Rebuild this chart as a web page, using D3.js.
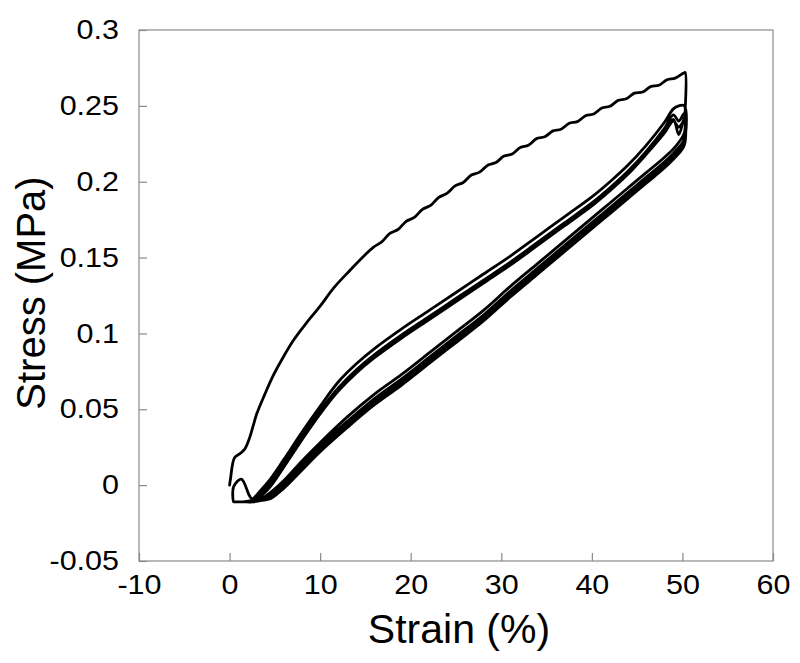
<!DOCTYPE html>
<html><head><meta charset="utf-8">
<script src="https://cdn.jsdelivr.net/npm/d3@7"></script>
<style>body{margin:0;background:#fff}svg{display:block}</style>
</head><body><svg id="c" width="800" height="663"></svg>
<script>
// ---- axis ticks ----
const xTicks = [-10, 0, 10, 20, 30, 40, 50, 60];
const xTickLabels = ["-10", "0", "10", "20", "30", "40", "50", "60"];
const yTicks = [-0.05, 0, 0.05, 0.1, 0.15, 0.2, 0.25, 0.3];
const yTickLabels = ["-0.05", "0", "0.05", "0.1", "0.15", "0.2", "0.25", "0.3"];
const xTitle = "Strain (%)";
const yTitle = "Stress (MPa)";

// ---- cycle 1 loading (outer curve, with its small sawtooth) ----
const load1Strain = [0, 0.1, 0.55, 1.2, 1.7, 2.2, 2.6, 3.0, 3.9, 4.8, 5.7, 7.0, 8.5, 10, 11.5, 13.2,
  15, 15.9, 16.8, 17.7, 18.6, 19.5, 20.4, 21.3, 22.2, 23.1, 24.0, 24.9, 25.8, 26.7, 27.6, 28.5, 29.4, 30.3,
  31.2, 32.1, 33.0, 33.9, 34.8, 35.7, 36.6, 37.5, 38.4, 39.3, 40.2, 41.1, 42.0, 42.9, 43.8, 44.7, 45.6,
  46.5, 47.4, 48.3, 49.2, 50.1, 50.3, 50.3];
const load1Stress = [0, 0.004, 0.018, 0.021, 0.024, 0.031, 0.039, 0.047, 0.060, 0.072, 0.082, 0.095, 0.107, 0.118, 0.130, 0.141,
  0.152, 0.1569, 0.1604, 0.1659, 0.1685, 0.1739, 0.1765, 0.1818, 0.1844, 0.1897, 0.1923, 0.1973, 0.1995, 0.2044, 0.2063, 0.2109, 0.2126, 0.2169,
  0.2183, 0.2226, 0.2241, 0.2284, 0.2296, 0.2335, 0.2346, 0.2385, 0.2396, 0.2435, 0.2446, 0.2486, 0.2497, 0.2536, 0.2547, 0.2584, 0.2591,
  0.2627, 0.2636, 0.2672, 0.2683, 0.2715, 0.2720, 0.2460];

// ---- unloading curves (lower band) ----
const unloadStrain = [50.2, 49.2, 48, 46, 44, 42, 40, 37, 34, 31, 28, 25, 22, 19, 16, 13, 10, 8, 6, 4.5, 3.5, 2.5, 1.5, 0.5];
const unload1Stress = [0.232, 0.223, 0.216, 0.206, 0.196, 0.186, 0.176, 0.161, 0.146, 0.131, 0.115, 0.101, 0.087, 0.073, 0.060, 0.045, 0.028, 0.016, 0.003, -0.005, -0.009, -0.011, -0.011, -0.011];
const unload2Stress = [0.228, 0.220, 0.213, 0.203, 0.193, 0.183, 0.173, 0.158, 0.143, 0.128, 0.112, 0.098, 0.084, 0.070, 0.057, 0.042, 0.026, 0.014, 0.001, -0.006, -0.010, -0.011, -0.011, -0.011];
const unload3Stress = [0.226, 0.218, 0.211, 0.201, 0.191, 0.181, 0.171, 0.156, 0.141, 0.126, 0.110, 0.096, 0.082, 0.068, 0.055, 0.040, 0.024, 0.012, 0.000, -0.007, -0.010, -0.011, -0.011, -0.011];
const unload4Stress = [0.225, 0.217, 0.210, 0.200, 0.190, 0.180, 0.170, 0.155, 0.140, 0.125, 0.109, 0.095, 0.081, 0.067, 0.054, 0.039, 0.023, 0.011, -0.001, -0.008, -0.010, -0.011, -0.011, -0.011];
const unload5Stress = [0.224, 0.216, 0.209, 0.199, 0.189, 0.179, 0.169, 0.154, 0.139, 0.124, 0.108, 0.094, 0.080, 0.066, 0.053, 0.038, 0.022, 0.010, -0.002, -0.009, -0.010, -0.011, -0.011, -0.011];

// ---- small kink at the bottom left after the first unloading ----
const kinkStrain = [0.45, 0.45, 1.3, 2.2];
const kinkStress = [-0.011, -0.001, 0.004, -0.007];

// ---- reloading curves (upper band) ----
const reloadStrain = [1.5, 2.5, 3.5, 4.5, 6, 8, 10, 12, 14, 16, 19, 22, 25, 28, 31, 34, 37, 40, 42, 44, 46, 48, 49, 49.6, 50.2];
const reload2Stress = [-0.011, -0.009, -0.003, 0.004, 0.017, 0.035, 0.052, 0.068, 0.080, 0.090, 0.103, 0.115, 0.127, 0.139, 0.151, 0.164, 0.177, 0.190, 0.200, 0.211, 0.224, 0.239, 0.248, 0.250, 0.250];
const reload3Stress = [-0.011, -0.010, -0.005, 0.001, 0.014, 0.032, 0.049, 0.064, 0.076, 0.086, 0.099, 0.111, 0.123, 0.135, 0.147, 0.160, 0.173, 0.186, 0.196, 0.207, 0.220, 0.235, 0.244, 0.240, 0.245];
const reload4Stress = [-0.011, -0.010, -0.006, 0.000, 0.013, 0.031, 0.048, 0.063, 0.075, 0.085, 0.098, 0.110, 0.122, 0.134, 0.146, 0.159, 0.172, 0.185, 0.195, 0.206, 0.219, 0.233, 0.241, 0.231, 0.242];
const reload5Stress = [-0.011, -0.010, -0.007, -0.001, 0.012, 0.030, 0.047, 0.062, 0.074, 0.084, 0.097, 0.109, 0.121, 0.133, 0.145, 0.158, 0.171, 0.184, 0.194, 0.205, 0.218, 0.232, 0.240, 0.236, 0.240];

// ---- build the continuous test record ----
function seg(xs, ys) { return xs.map((x, i) => [x, ys[i]]); }
const record = [].concat(
  seg(load1Strain, load1Stress),
  seg(unloadStrain, unload1Stress),
  seg(kinkStrain, kinkStress),
  seg(reloadStrain.slice(1), reload2Stress.slice(1)),
  seg(unloadStrain, unload2Stress),
  seg(reloadStrain, reload3Stress),
  seg(unloadStrain, unload3Stress),
  seg(reloadStrain, reload4Stress),
  seg(unloadStrain, unload4Stress),
  seg(reloadStrain, reload5Stress),
  seg(unloadStrain, unload5Stress)
);

const svg = d3.select("#c");
const L = 139, R = 773, T = 30, B = 561;
const x = d3.scaleLinear().domain([-10, 60]).range([L, R]);
const y = d3.scaleLinear().domain([-0.05, 0.3]).range([B, T]);
const gray = "#8a8a8a";
const font = "'Liberation Sans', Arial, sans-serif";
const stretch = 1.13;

// frame
svg.append("rect").attr("x", L).attr("y", T).attr("width", R - L).attr("height", B - T)
  .attr("fill", "none").attr("stroke", gray).attr("stroke-width", 1.2);

// x axis
const gx = svg.append("g").attr("transform", `translate(0,${B})`)
  .call(d3.axisBottom(x).tickValues(xTicks).tickSizeInner(-8).tickSizeOuter(0).tickPadding(14).tickFormat((d, i) => xTickLabels[i]));
gx.select(".domain").remove();
gx.selectAll("line").attr("stroke", gray).attr("stroke-width", 1.2);
gx.selectAll("text").attr("font-family", font).attr("font-size", 27).attr("fill", "#000")
  .attr("transform", `scale(${stretch},1)`).attr("x", 0);

// y axis
const gy = svg.append("g").attr("transform", `translate(${L},0)`)
  .call(d3.axisLeft(y).tickValues(yTicks).tickSizeInner(-8).tickSizeOuter(0).tickPadding(20).tickFormat((d, i) => yTickLabels[i]));
gy.select(".domain").remove();
gy.selectAll("line").attr("stroke", gray).attr("stroke-width", 1.2);
gy.selectAll("text").attr("font-family", font).attr("font-size", 27).attr("fill", "#000")
  .attr("x", -20 / stretch).attr("transform", `scale(${stretch},1)`);

// titles
svg.append("text").attr("x", 459).attr("y", 643).attr("text-anchor", "middle")
  .attr("font-family", font).attr("font-size", 41).attr("fill", "#000").text(xTitle);
svg.append("text").attr("transform", "translate(45,293) rotate(-90)").attr("text-anchor", "middle")
  .attr("font-family", font).attr("font-size", 40).attr("fill", "#000").text(yTitle);

// data
svg.append("path").datum(record)
  .attr("d", d3.line().x(d => x(d[0])).y(d => y(d[1])).curve(d3.curveCatmullRom.alpha(0.5)))
  .attr("fill", "none").attr("stroke", "#000").attr("stroke-width", 2.8)
  .attr("stroke-linejoin", "round").attr("stroke-linecap", "round");
</script>
</body></html>
